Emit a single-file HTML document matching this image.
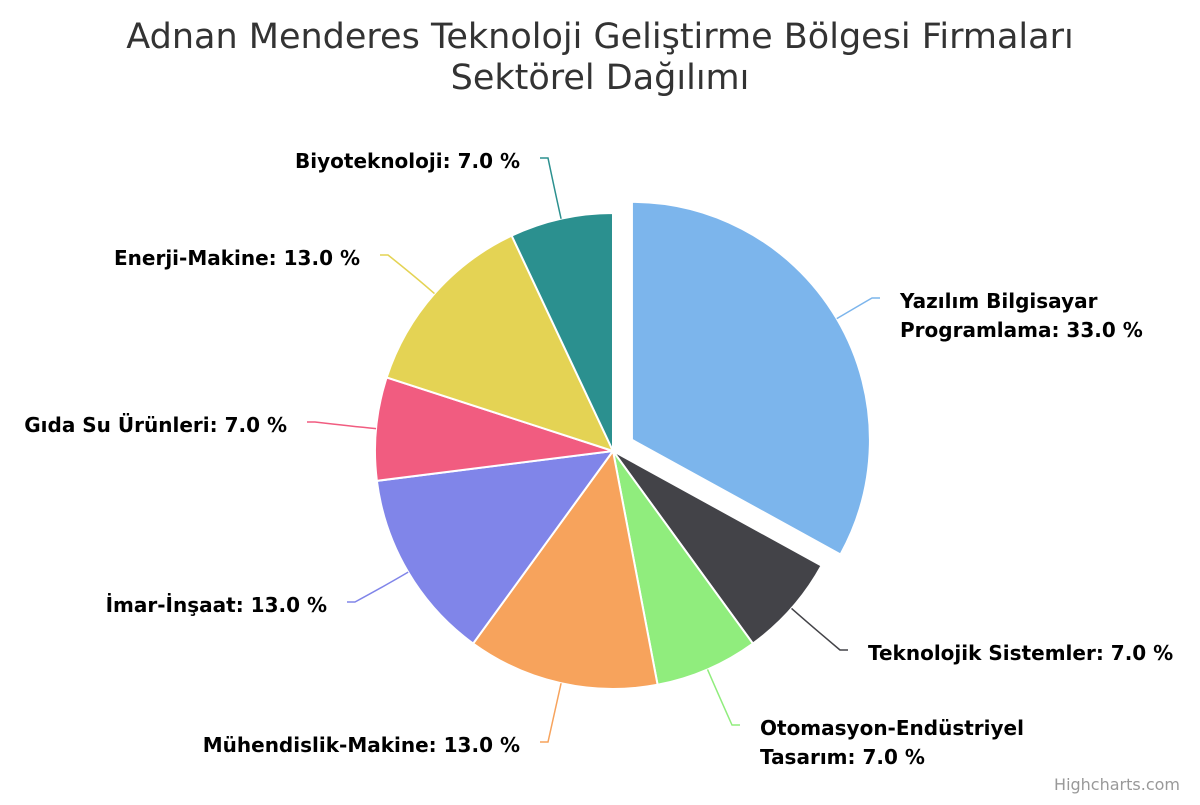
<!DOCTYPE html>
<html><head><meta charset="utf-8"><style>
body{margin:0;background:#fff;}
svg text{font-family:"DejaVu Sans","Liberation Sans",sans-serif;}
</style></head><body>
<svg width="1200" height="800">
<text x="600" y="48" text-anchor="middle" font-size="35" fill="#333">Adnan Menderes Teknoloji Geliştirme Bölgesi Firmaları</text>
<text x="600" y="89" text-anchor="middle" font-size="35" fill="#333">Sektörel Dağılımı</text>
<g id="slices"></g><g id="labels"></g>
<text x="1180" y="790" text-anchor="end" font-size="16" fill="#999">Highcharts.com</text>
</svg>
<script>
const categories=["Yazılım Bilgisayar|Programlama","Teknolojik Sistemler","Otomasyon-Endüstriyel|Tasarım","Mühendislik-Makine","İmar-İnşaat","Gıda Su Ürünleri","Enerji-Makine","Biyoteknoloji"];
const values=[33,7,7,13,13,7,13,7];
const colors=["#7cb5ec","#434348","#90ed7d","#f7a35c","#8085e9","#f15c80","#e4d354","#2b908f"];
const labelEnds=[[880,298],[848,650],[740,725],[540,742],[347,602],[307,422],[380,255],[540,158]];
const cx=613,cy=451,r=238,NS="http://www.w3.org/2000/svg";
const total=values.reduce((a,b)=>a+b,0);
const gs=document.getElementById('slices'),gl=document.getElementById('labels');
let a0=0;
function pt(a,rad,ox,oy){return [ox+rad*Math.sin(a),oy-rad*Math.cos(a)];}
values.forEach((v,i)=>{
 const a1=a0+v/total*2*Math.PI, mid=(a0+a1)/2;
 let ox=cx,oy=cy;
 if(i===0){ox+=22*Math.sin(mid);oy-=22*Math.cos(mid);}
 const p0=pt(a0,r,ox,oy),p1=pt(a1,r,ox,oy);
 const path=document.createElementNS(NS,'path');
 path.setAttribute('d',`M${ox},${oy}L${p0[0]},${p0[1]}A${r},${r} 0 ${a1-a0>Math.PI?1:0} 1 ${p1[0]},${p1[1]}Z`);
 path.setAttribute('fill',colors[i]);path.setAttribute('stroke','#fff');path.setAttribute('stroke-width','2');
 
 
 gs.appendChild(path);
 const e=pt(mid,r,ox,oy),m=pt(mid,r+25,ox,oy),[lx,ly]=labelEnds[i];
 const right=lx>cx;
 const c=document.createElementNS(NS,'path');
 c.setAttribute('d',`M${lx},${ly}L${lx+(right?-8:8)},${ly}Q${m[0]},${m[1]} ${e[0]},${e[1]}`);
 c.setAttribute('fill','none');c.setAttribute('stroke',colors[i]);c.setAttribute('stroke-width','1.5');
 
 
 gl.appendChild(c);
 const t=document.createElementNS(NS,'text');
 const lines=(categories[i]+": "+v.toFixed(1)+" %").split('|');
 t.setAttribute('x',right?lx+20:lx-20);t.setAttribute('text-anchor',right?'start':'end');
 t.setAttribute('font-size','20');t.setAttribute('font-weight','bold');t.setAttribute('fill','#000');
 
 
 lines.forEach((s,k)=>{const ts=document.createElementNS(NS,'tspan');ts.setAttribute('x',right?lx+20:lx-20);ts.setAttribute('y',ly+10+k*29);ts.textContent=s;t.appendChild(ts);});
 gl.appendChild(t);
 a0=a1;
});
</script>
</body></html>
